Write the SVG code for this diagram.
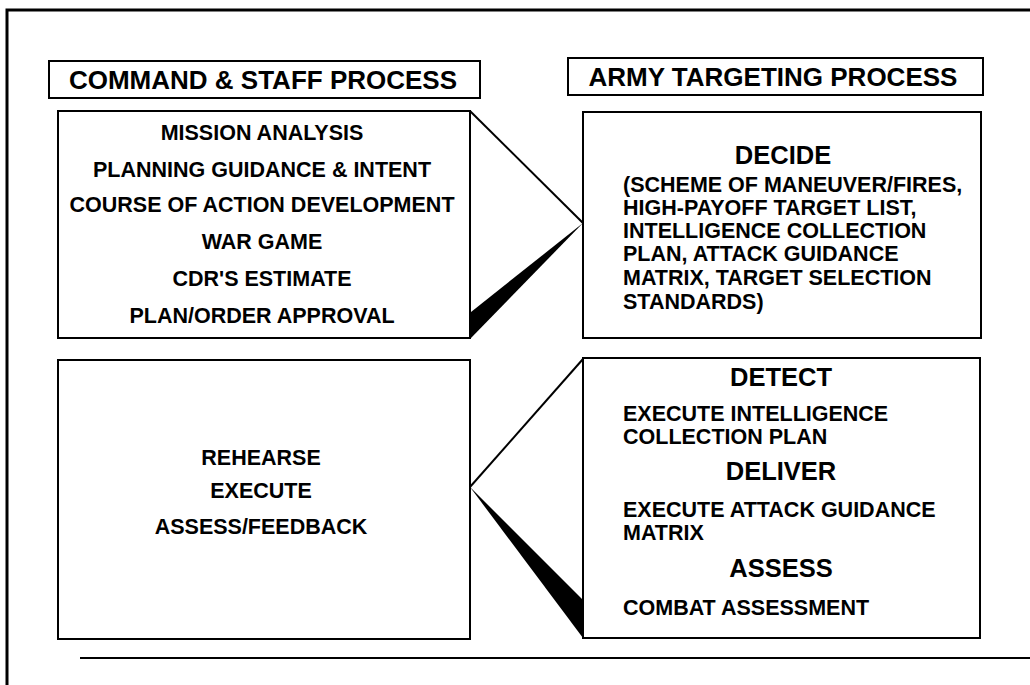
<svg xmlns="http://www.w3.org/2000/svg" width="1030" height="685" viewBox="0 0 1030 685">
<style>
.box{fill:#fff;stroke:#000;stroke-width:2}
.t{font-family:"Liberation Sans",Arial,sans-serif;font-weight:bold;font-size:21.5px;fill:#000}
.c{text-anchor:middle}
.h{font-size:26px}
.k{font-size:25.5px}
.line{fill:none;stroke:#000;stroke-width:2}
</style>
<rect width="1030" height="685" fill="#fff"/>
<g id="frame">
<path d="M7,685 V10 H1030" fill="none" stroke="#000" stroke-width="3"/>
<path d="M80,658 H1030" fill="none" stroke="#000" stroke-width="2"/>
</g>
<g id="hdr-left">
<rect class="box" x="49" y="61" width="431" height="37"/>
<text class="t c h" x="263" y="89">COMMAND &amp; STAFF PROCESS</text>
</g>
<g id="hdr-right">
<rect class="box" x="568" y="58" width="415" height="37"/>
<text class="t c h" x="773" y="86">ARMY TARGETING PROCESS</text>
</g>
<g id="connectors">
<path class="line" d="M470,111 L583,223"/>
<polygon points="583,223 471,312 471,338" fill="#000"/>
<path class="line" d="M470,487 L583,359"/>
<polygon points="470,487 583,600 583,638" fill="#000"/>
</g>
<g id="plan-box">
<rect class="box" x="58" y="111" width="412" height="227"/>
<text class="t c" x="262" y="140">MISSION ANALYSIS</text>
<text class="t c" x="262" y="177">PLANNING GUIDANCE &amp; INTENT</text>
<text class="t c" x="262" y="212">COURSE OF ACTION DEVELOPMENT</text>
<text class="t c" x="262" y="249">WAR GAME</text>
<text class="t c" x="262" y="286">CDR'S ESTIMATE</text>
<text class="t c" x="262" y="323">PLAN/ORDER APPROVAL</text>
</g>
<g id="decide-box">
<rect class="box" x="583" y="112" width="398" height="226"/>
<text class="t c k" x="783" y="164">DECIDE</text>
<text class="t" x="623" y="192">(SCHEME OF MANEUVER/FIRES,</text>
<text class="t" x="623" y="215">HIGH-PAYOFF TARGET LIST,</text>
<text class="t" x="623" y="238">INTELLIGENCE COLLECTION</text>
<text class="t" x="623" y="261">PLAN, ATTACK GUIDANCE</text>
<text class="t" x="623" y="285">MATRIX, TARGET SELECTION</text>
<text class="t" x="623" y="309">STANDARDS)</text>
</g>
<g id="execute-box">
<rect class="box" x="58" y="360" width="412" height="279"/>
<text class="t c" x="261" y="465">REHEARSE</text>
<text class="t c" x="261" y="498">EXECUTE</text>
<text class="t c" x="261" y="534">ASSESS/FEEDBACK</text>
</g>
<g id="d3a-box">
<rect class="box" x="583" y="358" width="397" height="280"/>
<text class="t c k" x="781" y="386">DETECT</text>
<text class="t" x="623" y="421">EXECUTE INTELLIGENCE</text>
<text class="t" x="623" y="444">COLLECTION PLAN</text>
<text class="t c k" x="781" y="480">DELIVER</text>
<text class="t" x="623" y="517">EXECUTE ATTACK GUIDANCE</text>
<text class="t" x="623" y="540">MATRIX</text>
<text class="t c k" x="781" y="577">ASSESS</text>
<text class="t" x="623" y="615">COMBAT ASSESSMENT</text>
</g>
</svg>
